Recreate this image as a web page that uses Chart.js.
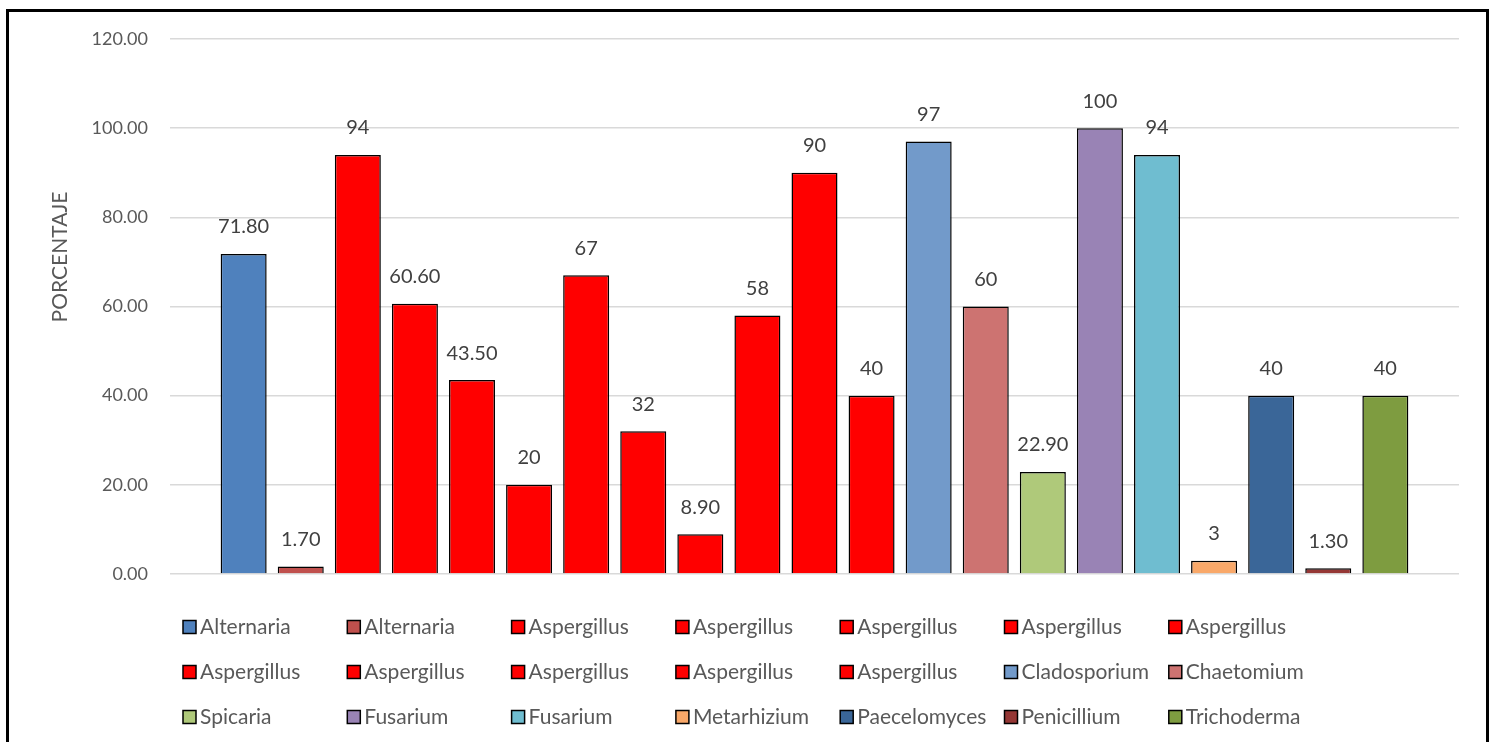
<!DOCTYPE html>
<html>
<head>
<meta charset="utf-8">
<script src="https://cdn.jsdelivr.net/npm/chart.js@4.4.1/dist/chart.umd.min.js"></script>
<style>
  html, body { margin: 0; padding: 0; background: #ffffff; }
  #wrap { width: 1496px; height: 742px; }
</style>
</head>
<body>
<div id="wrap"><canvas id="c" width="1496" height="742"></canvas></div>
<script>
// Genera and their share (%)
const seriesNames = [
  'Alternaria', 'Alternaria', 'Aspergillus', 'Aspergillus', 'Aspergillus',
  'Aspergillus', 'Aspergillus', 'Aspergillus', 'Aspergillus', 'Aspergillus',
  'Aspergillus', 'Aspergillus', 'Cladosporium', 'Chaetomium', 'Spicaria',
  'Fusarium', 'Fusarium', 'Metarhizium', 'Paecelomyces', 'Penicillium',
  'Trichoderma'
];
const seriesValues = [
  71.8, 1.7, 94, 60.6, 43.5,
  20, 67, 32, 8.9, 58,
  90, 40, 97, 60, 22.9,
  100, 94, 3, 40, 1.3,
  40
];
// decimals shown in each value label
const labelDecimals = [
  2, 2, 0, 2, 2,
  0, 0, 0, 2, 0,
  0, 0, 0, 0, 2,
  0, 0, 0, 0, 2,
  0
];
const seriesColors = [
  '#4F81BD', '#C0504D', '#FF0000', '#FF0000', '#FF0000',
  '#FF0000', '#FF0000', '#FF0000', '#FF0000', '#FF0000',
  '#FF0000', '#FF0000', '#729ACA', '#CD7371', '#AFC97A',
  '#9983B5', '#6FBDD0', '#F9A869', '#3A6698', '#953735',
  '#7E9C40'
];
const categoryLabels = [''];
const yMin = 0, yMax = 120, yStep = 20;
const yTitle = 'PORCENTAJE';

const FONT = 'Lato, "Open Sans", sans-serif';
const TEXT = '#595959';

const valueLabels = {
  id: 'valueLabels',
  afterDatasetsDraw(chart) {
    const ctx = chart.ctx;
    ctx.save();
    ctx.font = '20px ' + FONT;
    ctx.fillStyle = '#404040';
    ctx.textAlign = 'center';
    ctx.textBaseline = 'middle';
    chart.data.datasets.forEach((ds, i) => {
      const bar = chart.getDatasetMeta(i).data[0];
      if (!bar) return;
      ctx.fillText(ds.data[0].toFixed(labelDecimals[i]), bar.x, bar.y - 27);
    });
    ctx.restore();
  }
};

const columnLegend = {
  id: 'columnLegend',
  afterDraw(chart) {
    const ctx = chart.ctx;
    ctx.save();
    ctx.font = '21px ' + FONT;
    ctx.textAlign = 'left';
    ctx.textBaseline = 'middle';
    chart.data.datasets.forEach((ds, i) => {
      const col = i % 7, row = Math.floor(i / 7);
      const x = 183 + col * 164.3;
      const y = 627 + row * 45;
      ctx.fillStyle = ds.backgroundColor;
      ctx.fillRect(x, y - 6.5, 13, 13);
      ctx.lineWidth = 1.5;
      ctx.strokeStyle = '#000000';
      ctx.strokeRect(x, y - 6.5, 13, 13);
      ctx.fillStyle = TEXT;
      ctx.fillText(ds.label, x + 17, y);
    });
    ctx.restore();
  }
};

const sideTitleAndFrame = {
  id: 'sideTitleAndFrame',
  afterDraw(chart) {
    const ctx = chart.ctx;
    ctx.save();
    ctx.translate(60, 257);
    ctx.rotate(-Math.PI / 2);
    ctx.font = '21px ' + FONT;
    ctx.fillStyle = TEXT;
    ctx.textAlign = 'center';
    ctx.textBaseline = 'middle';
    ctx.fillText(yTitle, 0, 0);
    ctx.restore();

    ctx.save();
    ctx.strokeStyle = '#000000';
    ctx.lineWidth = 3;
    ctx.strokeRect(7.5, 10.5, 1480, 800);
    ctx.restore();
  }
};

new Chart(document.getElementById('c'), {
  type: 'bar',
  data: {
    labels: categoryLabels,
    datasets: seriesNames.map((name, i) => ({
      label: name,
      data: [seriesValues[i]],
      backgroundColor: seriesColors[i],
      borderColor: '#000000',
      borderWidth: 1.5,
      categoryPercentage: 0.93,
      barPercentage: 0.806
    }))
  },
  options: {
    responsive: false,
    animation: false,
    devicePixelRatio: 1,
    layout: { padding: { top: 39, bottom: 168, left: 0, right: 37 } },
    plugins: {
      legend: { display: false },
      title: { display: false },
      tooltip: { enabled: false }
    },
    scales: {
      x: { display: false },
      y: {
        min: yMin,
        max: yMax,
        ticks: {
          stepSize: yStep,
          padding: 22,
          color: TEXT,
          font: { family: FONT, size: 18 },
          callback: v => Number(v).toFixed(2)
        },
        grid: { color: '#D9D9D9', lineWidth: 1.5, drawTicks: false },
        border: { display: false },
        afterFit(scale) { scale.width = 170; }
      }
    }
  },
  plugins: [valueLabels, columnLegend, sideTitleAndFrame]
});
</script>
</body>
</html>
